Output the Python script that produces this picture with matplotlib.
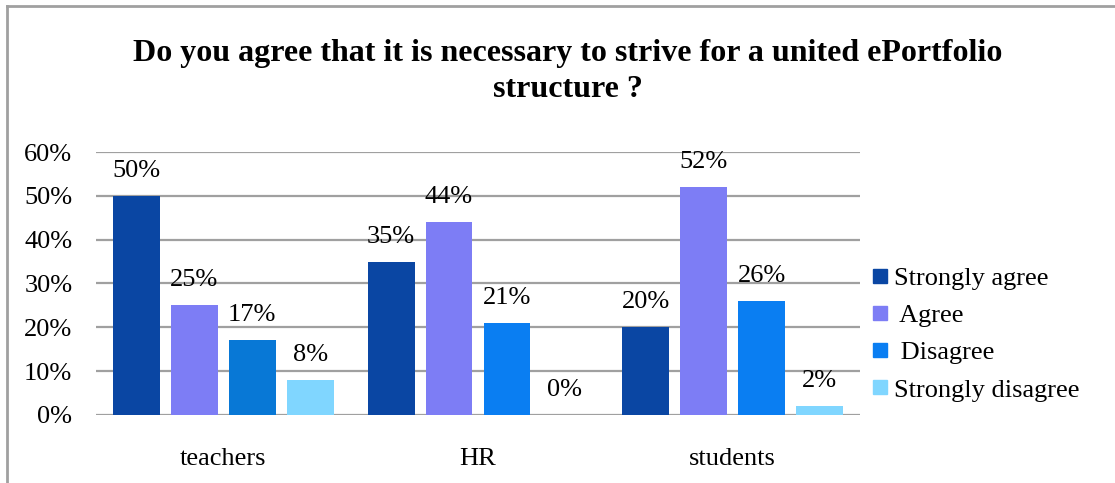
import matplotlib.pyplot as plt
from matplotlib.lines import Line2D
import numpy as np

# Data
categories = ["teachers", "HR", "students"]
series_names = ["Strongly agree", " Agree", " Disagree", "Strongly disagree"]
strongly_agree = [50, 35, 20]
agree = [25, 44, 52]
disagree = [17, 21, 26]
strongly_disagree = [8, 0, 2]
y_ticks = [0, 10, 20, 30, 40, 50, 60]

title_text = "Do you agree that it is necessary to strive for a united ePortfolio\nstructure ?"

# Style
colors = ["#0a46a3", "#7d7df5", "#0a7ef2", "#80d6ff"]
teachers_disagree_color = "#0878d6"
grid_color = "#a0a0a0"
font_name = "Liberation Serif"
text_size = 19
plt.rcParams["font.family"] = font_name

fig = plt.figure(figsize=(11.15, 4.83), dpi=100)
ax = fig.add_axes([0.0861, 0.1408, 0.6852, 0.5445])

x = np.arange(len(categories))
bar_width = 0.184
step = 0.2275
all_values = [strongly_agree, agree, disagree, strongly_disagree]

for i, vals in enumerate(all_values):
    offs = (i - 1.5) * step
    bar_colors = [colors[i]] * len(categories)
    if i == 2:
        bar_colors[0] = teachers_disagree_color
    bars = ax.bar(x + offs, vals, width=bar_width, color=bar_colors, zorder=3)
    for b, v in zip(bars, vals):
        ax.annotate(f"{v}%", (b.get_x() + b.get_width() / 2, b.get_height()),
                    xytext=(0, 18), textcoords="offset points",
                    ha="center", va="center", fontsize=text_size, zorder=4)

ax.set_xlim(-0.5, 2.5)
ax.set_ylim(0, 60)
ax.set_yticks(y_ticks)
ax.set_yticklabels([f"{t}%" for t in y_ticks], fontsize=text_size)
ax.set_xticks(x)
ax.set_xticklabels(categories, fontsize=text_size)
ax.tick_params(axis="y", length=0, pad=17)
ax.tick_params(axis="x", length=0, pad=24)
ax.yaxis.grid(True, color=grid_color, linewidth=1.6, zorder=0)
for s in ax.spines.values():
    s.set_visible(False)

# Legend
handles = [Line2D([0], [0], marker="s", linestyle="none", markersize=10,
                  markerfacecolor=c, markeredgecolor=c) for c in colors]
fig.legend(handles, series_names, loc="center left", bbox_to_anchor=(0.757, 0.3085),
           frameon=False, fontsize=text_size, handletextpad=0.1, labelspacing=0.52,
           handlelength=0.9)

# Title
fig.text(0.509, 0.852, title_text, ha="center", va="center", fontsize=23,
         fontweight="bold", linespacing=1.3)

# Frame lines (top and left)
fig.add_artist(Line2D([7 / 1115, 1], [1 - 6 / 483, 1 - 6 / 483],
                      transform=fig.transFigure, color=grid_color, linewidth=2))
fig.add_artist(Line2D([7 / 1115, 7 / 1115], [0, 1 - 6 / 483],
                      transform=fig.transFigure, color=grid_color, linewidth=2))

fig.savefig("out.png", dpi=100)
